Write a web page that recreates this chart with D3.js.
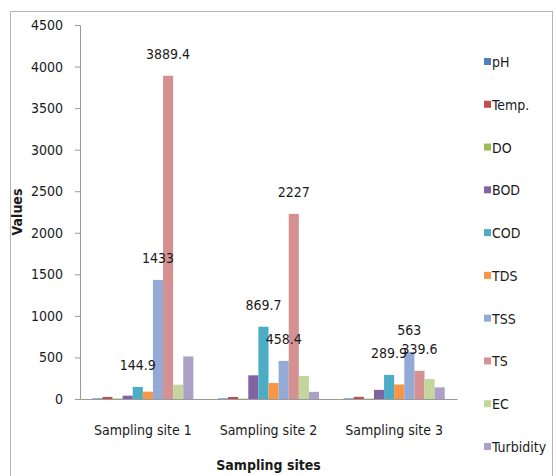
<!DOCTYPE html>
<html>
<head>
<meta charset="utf-8">
<script src="https://cdn.jsdelivr.net/npm/d3@7/dist/d3.min.js"></script>
<style>
  html, body { margin: 0; padding: 0; background: #fff; }
  svg { display: block; }
  text { font-family: "DejaVu Sans Condensed", "DejaVu Sans", sans-serif; font-stretch: condensed; fill: #1a1a1a; }
</style>
</head>
<body>
<svg id="chart" width="557" height="476"></svg>
<script>
// Sampling sites on the category axis
const sites = ["Sampling site 1", "Sampling site 2", "Sampling site 3"];

// Water-quality parameters (one bar per parameter within each site)
const params = ["pH", "Temp.", "DO", "BOD", "COD", "TDS", "TSS", "TS", "EC", "Turbidity"];

// Measured values per parameter, ordered by site
const pH        = [7.2, 7.4, 7.3];
const temp      = [25, 24, 26];
const dO        = [5.2, 4.1, 4.8];
const bod       = [40, 285, 110];
const cod       = [144.9, 869.7, 289.9];
const tds       = [88, 192, 175];
const tss       = [1433, 458.4, 563];
const ts        = [3889.4, 2227, 339.6];
const ec        = [172, 278, 240];
const turbidity = [512, 86, 140];

const seriesValues = [pH, temp, dO, bod, cod, tds, tss, ts, ec, turbidity];

// Parameters whose bars carry a value label
const labelledParams = ["COD", "TSS", "TS"];

// Y-axis ticks
const yTicks = [0, 500, 1000, 1500, 2000, 2500, 3000, 3500, 4000, 4500];

const colors = ["#4F81BD", "#C0504D", "#9BBB59", "#8064A2", "#4BACC6",
                "#F79646", "#93AAD6", "#D59092", "#C3D69B", "#ADA0C6"];

const FS = 14;

const svg = d3.select("#chart");

// Outer chart frame
svg.append("rect")
  .attr("x", 10.5).attr("y", 11.5)
  .attr("width", 542).attr("height", 480)
  .attr("fill", "#fff").attr("stroke", "#b5b5b5").attr("stroke-width", 1);

const plot = { left: 80, right: 457, top: 25, bottom: 399 };

const x0 = d3.scaleBand().domain(sites).range([plot.left, plot.right]).padding(0);
const gap = x0.bandwidth() / (params.length / 1.5 + 1) * 0.75; // space either side of a group
const x1 = d3.scaleBand().domain(params)
  .range([gap, x0.bandwidth() - gap]).padding(0);
const y = d3.scaleLinear().domain([0, 4500]).range([plot.bottom, plot.top]);

// Y axis
const yAxis = svg.append("g")
  .attr("transform", `translate(${plot.left},0)`)
  .call(d3.axisLeft(y).tickValues(yTicks).tickSize(5).tickPadding(12).tickFormat(d3.format("d")));
yAxis.select(".domain").attr("stroke", "#9a9a9a");
yAxis.selectAll(".tick line").attr("stroke", "#9a9a9a");
yAxis.selectAll(".tick text").attr("font-size", FS).attr("fill", "#1a1a1a")
  .style("font-family", null);

// Bars
const groups = svg.append("g").selectAll("g")
  .data(sites)
  .join("g")
  .attr("transform", d => `translate(${x0(d)},0)`);

groups.selectAll("rect")
  .data((site, si) => params.map((p, pi) => ({ p, pi, v: seriesValues[pi][si] })))
  .join("rect")
  .attr("x", d => x1(d.p))
  .attr("width", x1.bandwidth())
  .attr("y", d => y(d.v))
  .attr("height", d => plot.bottom - y(d.v))
  .attr("fill", d => colors[d.pi]);

// Value labels
groups.selectAll("text.val")
  .data((site, si) => params.map((p, pi) => ({ p, pi, v: seriesValues[pi][si] }))
    .filter(d => labelledParams.includes(d.p)))
  .join("text")
  .attr("class", "val")
  .attr("x", d => x1(d.p) + x1.bandwidth() / 2)
  .attr("y", d => y(d.v) - 17)
  .attr("text-anchor", "middle")
  .attr("font-size", FS)
  .text(d => d.v);

// X axis baseline
const xAxis = svg.append("g")
  .attr("transform", `translate(0,${plot.bottom})`)
  .call(d3.axisBottom(x0).tickSize(0).tickPadding(26));
xAxis.select(".domain").attr("stroke", "#9a9a9a");
xAxis.selectAll(".tick text").attr("font-size", FS).attr("fill", "#1a1a1a")
  .style("font-family", null);

// Axis titles
svg.append("text")
  .attr("x", (plot.left + plot.right) / 2)
  .attr("y", 470)
  .attr("text-anchor", "middle")
  .attr("font-size", FS).attr("font-weight", "bold")
  .text("Sampling sites");

svg.append("text")
  .attr("transform", "translate(22,212) rotate(-90)")
  .attr("text-anchor", "middle")
  .attr("font-size", FS).attr("font-weight", "bold")
  .text("Values");

// Legend
const legend = svg.append("g").attr("transform", "translate(484,0)");
const legendY = d3.scalePoint().domain(params).range([62, 447]);
const items = legend.selectAll("g").data(params).join("g")
  .attr("transform", d => `translate(0,${legendY(d)})`);
items.append("rect")
  .attr("x", 0).attr("y", -4).attr("width", 7).attr("height", 7)
  .attr("fill", (d, i) => colors[i]);
items.append("text")
  .attr("x", 8).attr("y", 5)
  .attr("font-size", FS)
  .text(d => d);
</script>
</body>
</html>
